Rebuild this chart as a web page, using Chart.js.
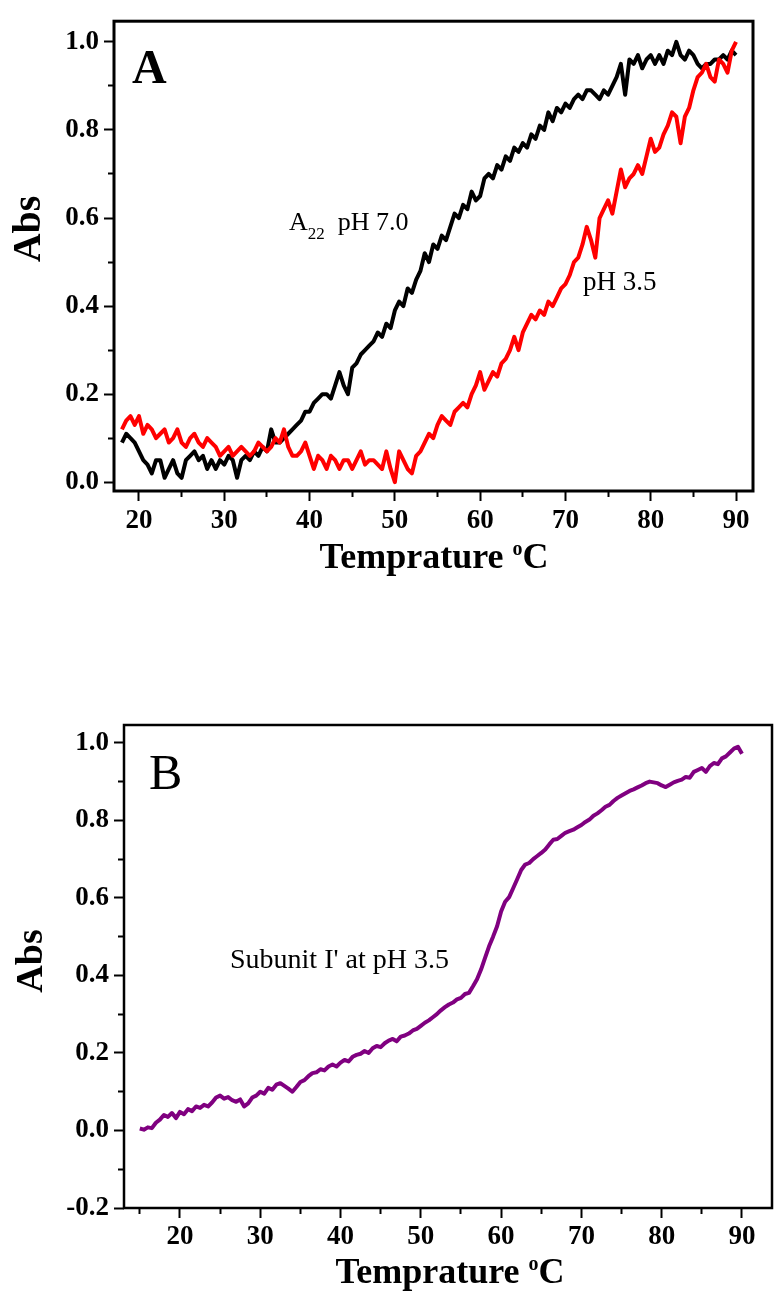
<!DOCTYPE html>
<html>
<head>
<meta charset="utf-8">
<script src="https://cdn.jsdelivr.net/npm/chart.js@4/dist/chart.umd.min.js"></script>
<style>
html, body { margin: 0; padding: 0; background: #fff; }
body { width: 774px; height: 1295px; position: relative; overflow: hidden; }
canvas { position: absolute; left: 0; }
#chartA { top: 0; }
#chartB { top: 640px; }
</style>
</head>
<body>
<canvas id="chartA" width="774" height="600"></canvas>
<canvas id="chartB" width="774" height="655"></canvas>
<script>
// panel A : temperature (C) and absorbance
var tempA = [18,18.5,19,19.5,20,20.5,21,21.5,22,22.5,
	23,23.5,24,24.5,25,25.5,26,26.5,27,27.5,
	28,28.5,29,29.5,30,30.5,31,31.5,32,32.5,
	33,33.5,34,34.5,35,35.5,36,36.5,37,37.5,
	38,38.5,39,39.5,40,40.5,41,41.5,42,42.5,
	43,43.5,44,44.5,45,45.5,46,46.5,47,47.5,
	48,48.5,49,49.5,50,50.5,51,51.5,52,52.5,
	53,53.5,54,54.5,55,55.5,56,56.5,57,57.5,
	58,58.5,59,59.5,60,60.5,61,61.5,62,62.5,
	63,63.5,64,64.5,65,65.5,66,66.5,67,67.5,
	68,68.5,69,69.5,70,70.5,71,71.5,72,72.5,
	73,73.5,74,74.5,75,75.5,76,76.5,77,77.5,
	78,78.5,79,79.5,80,80.5,81,81.5,82,82.5,
	83,83.5,84,84.5,85,85.5,86,86.5,87,87.5,
	88,88.5,89,89.5,90];

var absA70 = [0.09,0.11,0.10,0.09,0.07,0.05,0.04,0.02,0.05,0.05,
	0.01,0.03,0.05,0.02,0.01,0.05,0.06,0.07,0.05,0.06,
	0.03,0.05,0.03,0.05,0.04,0.06,0.05,0.01,0.05,0.06,
	0.05,0.07,0.06,0.08,0.07,0.12,0.09,0.09,0.10,0.11,
	0.12,0.13,0.14,0.16,0.16,0.18,0.19,0.20,0.20,0.19,
	0.22,0.25,0.22,0.20,0.26,0.27,0.29,0.30,0.31,0.32,
	0.34,0.33,0.36,0.35,0.39,0.41,0.40,0.44,0.43,0.46,
	0.48,0.52,0.50,0.54,0.53,0.56,0.55,0.58,0.61,0.60,
	0.63,0.62,0.66,0.64,0.65,0.69,0.70,0.69,0.72,0.71,
	0.74,0.73,0.76,0.75,0.77,0.76,0.79,0.78,0.81,0.80,
	0.84,0.82,0.85,0.84,0.86,0.85,0.87,0.88,0.87,0.89,
	0.89,0.88,0.87,0.89,0.88,0.90,0.92,0.95,0.88,0.96,
	0.95,0.97,0.94,0.96,0.97,0.95,0.97,0.95,0.98,0.97,
	1.00,0.97,0.96,0.98,0.97,0.95,0.94,0.95,0.95,0.96,
	0.96,0.97,0.96,0.98,0.97];

var absA35 = [0.12,0.14,0.15,0.13,0.15,0.11,0.13,0.12,0.10,0.11,
	0.12,0.09,0.10,0.12,0.09,0.08,0.10,0.11,0.09,0.08,
	0.10,0.09,0.08,0.06,0.07,0.08,0.06,0.07,0.08,0.07,
	0.06,0.07,0.09,0.08,0.07,0.08,0.10,0.09,0.12,0.08,
	0.06,0.06,0.07,0.09,0.06,0.03,0.06,0.05,0.03,0.06,
	0.05,0.03,0.05,0.05,0.03,0.05,0.07,0.04,0.05,0.05,
	0.04,0.03,0.07,0.03,0.00,0.07,0.05,0.03,0.02,0.06,
	0.07,0.09,0.11,0.10,0.13,0.15,0.14,0.13,0.16,0.17,
	0.18,0.17,0.20,0.22,0.25,0.21,0.23,0.25,0.24,0.27,
	0.28,0.30,0.33,0.30,0.34,0.36,0.38,0.37,0.39,0.38,
	0.41,0.40,0.42,0.44,0.45,0.47,0.50,0.51,0.54,0.58,
	0.55,0.51,0.60,0.62,0.64,0.61,0.66,0.71,0.67,0.69,
	0.70,0.72,0.70,0.74,0.78,0.75,0.76,0.79,0.81,0.84,
	0.83,0.77,0.83,0.85,0.89,0.92,0.93,0.95,0.92,0.91,
	0.96,0.95,0.93,0.98,1.00];

// panel B : subunit I' at pH 3.5
var tempB = [15,15.5,16,16.5,17,17.5,18,18.5,19,19.5,
	20,20.5,21,21.5,22,22.5,23,23.5,24,24.5,
	25,25.5,26,26.5,27,27.5,28,28.5,29,29.5,
	30,30.5,31,31.5,32,32.5,33,33.5,34,34.5,
	35,35.5,36,36.5,37,37.5,38,38.5,39,39.5,
	40,40.5,41,41.5,42,42.5,43,43.5,44,44.5,
	45,45.5,46,46.5,47,47.5,48,48.5,49,49.5,
	50,50.5,51,51.5,52,52.5,53,53.5,54,54.5,
	55,55.5,56,56.5,57,57.5,58,58.5,59,59.5,
	60,60.5,61,61.5,62,62.5,63,63.5,64,64.5,
	65,65.5,66,66.5,67,67.5,68,68.5,69,69.5,
	70,70.5,71,71.5,72,72.5,73,73.5,74,74.5,
	75,75.5,76,76.5,77,77.5,78,78.5,79,79.5,
	80,80.5,81,81.5,82,82.5,83,83.5,84,84.5,
	85,85.5,86,86.5,87,87.5,88,88.5,89,89.5,
	90];

var absB = [0.005,0.002,0.008,0.006,0.020,0.028,0.040,0.035,0.045,0.032,
	0.048,0.042,0.055,0.050,0.062,0.058,0.066,0.062,0.072,0.085,
	0.090,0.082,0.086,0.078,0.074,0.080,0.062,0.070,0.085,0.090,
	0.100,0.095,0.110,0.105,0.118,0.122,0.115,0.108,0.100,0.112,
	0.125,0.130,0.140,0.148,0.150,0.158,0.155,0.165,0.170,0.165,
	0.175,0.182,0.178,0.190,0.195,0.198,0.205,0.200,0.212,0.218,
	0.215,0.225,0.232,0.236,0.230,0.242,0.245,0.250,0.258,0.262,
	0.270,0.278,0.284,0.292,0.300,0.310,0.318,0.325,0.330,0.338,
	0.342,0.352,0.355,0.372,0.390,0.415,0.445,0.475,0.500,0.527,
	0.565,0.590,0.602,0.625,0.648,0.672,0.686,0.690,0.700,0.708,
	0.716,0.725,0.738,0.750,0.752,0.760,0.768,0.772,0.776,0.782,
	0.788,0.796,0.802,0.812,0.818,0.826,0.835,0.840,0.850,0.858,
	0.864,0.870,0.876,0.880,0.885,0.890,0.896,0.900,0.898,0.896,
	0.890,0.886,0.892,0.898,0.902,0.905,0.912,0.910,0.925,0.930,
	0.935,0.925,0.940,0.948,0.945,0.960,0.965,0.975,0.985,0.990,
	0.972];

var SERIF = "'Liberation Serif', 'Times New Roman', serif";

function pairs(xs, ys) {
	return xs.map(function (x, i) { return {x: x, y: ys[i]}; });
}

function xLabel(v) {
	return Math.abs(v % 10) < 1e-6 ? String(Math.round(v)) : '';
}
function yLabel(v) {
	var k = Math.round(v * 10);
	if (k % 2 !== 0) return '';
	return (k / 10).toFixed(1);
}

// frame round the plot and the free texts
var framePlugin = {
	id: 'frame',
	afterDatasetsDraw: function (chart, args, opts) {
		var a = chart.chartArea, ctx = chart.ctx;
		ctx.save();
		ctx.strokeStyle = '#000';
		ctx.lineWidth = opts.width;
		ctx.strokeRect(a.left, a.top, a.right - a.left, a.bottom - a.top);
		ctx.fillStyle = '#000';
		ctx.textBaseline = 'alphabetic';
		(opts.texts || []).forEach(function (t) {
			ctx.save();
			var w = 0;
			t.parts.forEach(function (p) { ctx.font = p.f; w += ctx.measureText(p.s).width; });
			ctx.translate(t.x, t.y);
			if (t.rot) ctx.rotate(t.rot);
			var cx = t.align == 'center' ? -w / 2 : 0;
			t.parts.forEach(function (p) {
				ctx.font = p.f;
				ctx.fillText(p.s, cx, p.dy || 0);
				cx += ctx.measureText(p.s).width;
			});
			ctx.restore();
		});
		ctx.restore();
	}
};

function axis(min, max, step, isX, size, fn, pad) {
	// minor ticks: only the part next to the axis is drawn
	var minorDash = isX ? [6, 100] : [0, 4, 6, 100];
	return {
		type: 'linear', min: min, max: max,
		afterFit: function (s) { if (isX) s.height = size; else s.width = size; },
		border: {display: false},
		grid: {drawOnChartArea: false, drawTicks: true, tickLength: 10, tickWidth: 2, tickColor: '#000',
			tickBorderDash: function (c) { return c.tick && fn(c.tick.value) === '' ? minorDash : []; }},
		ticks: {stepSize: step, autoSkip: false, includeBounds: false, maxRotation: 0, padding: pad,
			color: '#000', font: {family: SERIF, size: 27, weight: 'bold'}, callback: fn}
	};
}

function title(x, y) {
	return {x: x, y: y, align: 'center', parts: [
		{s: 'Temprature ', f: 'bold 36px ' + SERIF},
		{s: 'o', f: 'bold 20px ' + SERIF, dy: -13},
		{s: 'C', f: 'bold 36px ' + SERIF}]};
}

new Chart(document.getElementById('chartA'), {
	type: 'line',
	data: {datasets: [
		{label: 'pH 3.5', data: pairs(tempA, absA35), borderColor: '#ff0000', borderWidth: 4, order: 0},
		{label: 'A22 pH 7.0', data: pairs(tempA, absA70), borderColor: '#000000', borderWidth: 4, order: 1}
	]},
	options: {
		responsive: false, animation: false, devicePixelRatio: 1,
		layout: {padding: {top: 14, right: 21, left: 0, bottom: 0}},
		elements: {point: {radius: 0}, line: {tension: 0, borderJoinStyle: 'round', fill: false}},
		plugins: {
			legend: {display: false}, tooltip: {enabled: false},
			frame: {width: 3, texts: [
				{x: 132, y: 83, parts: [{s: 'A', f: 'bold 48px ' + SERIF}]},
				{x: 289, y: 230, parts: [{s: 'A', f: '26px ' + SERIF}, {s: '22', f: '17px ' + SERIF, dy: 9}, {s: '  pH 7.0', f: '26px ' + SERIF}]},
				{x: 583, y: 290, parts: [{s: 'pH 3.5', f: '27px ' + SERIF}]},
				{x: 40, y: 229, rot: -Math.PI / 2, align: 'center', parts: [{s: 'Abs', f: 'bold 40px ' + SERIF}]},
				title(434, 568)
			]}
		},
		scales: {
			x: axis(17.07, 91.99, 5, true, 109, xLabel, 4),
			y: axis(-0.02, 1.047, 0.1, false, 114, yLabel, 5)
		}
	},
	plugins: [framePlugin]
});

new Chart(document.getElementById('chartB'), {
	type: 'line',
	data: {datasets: [
		{label: "Subunit I' at pH 3.5", data: pairs(tempB, absB), borderColor: '#800080', borderWidth: 4}
	]},
	options: {
		responsive: false, animation: false, devicePixelRatio: 1,
		layout: {padding: {top: 85, right: 2, left: 0, bottom: 0}},
		elements: {point: {radius: 0}, line: {tension: 0, borderJoinStyle: 'round', fill: false}},
		plugins: {
			legend: {display: false}, tooltip: {enabled: false},
			frame: {width: 2.5, texts: [
				{x: 149, y: 149, parts: [{s: 'B', f: '50px ' + SERIF}]},
				{x: 230, y: 328, parts: [{s: "Subunit I' at pH 3.5", f: '28px ' + SERIF}]},
				{x: 42, y: 321, rot: -Math.PI / 2, align: 'center', parts: [{s: 'Abs', f: 'bold 38px ' + SERIF}]},
				title(450, 643)
			]}
		},
		scales: {
			x: axis(13.03, 93.74, 5, true, 87, xLabel, 3),
			y: axis(-0.2, 1.046, 0.1, false, 124, yLabel, 5)
		}
	},
	plugins: [framePlugin]
});
</script>
</body>
</html>
